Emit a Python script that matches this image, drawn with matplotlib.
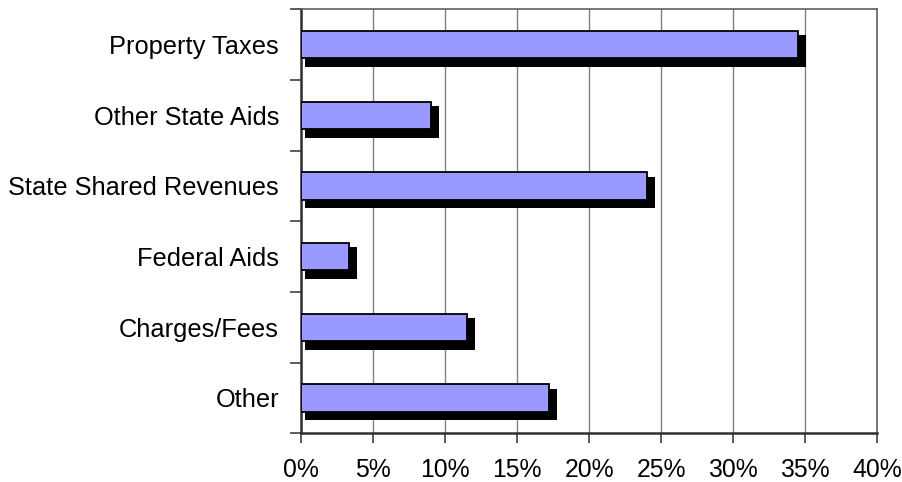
import matplotlib
matplotlib.use("Agg")
import matplotlib.pyplot as plt
import numpy as np
from matplotlib.ticker import FuncFormatter, FixedLocator

categories = ["Property Taxes", "Other State Aids", "State Shared Revenues",
              "Federal Aids", "Charges/Fees", "Other"]
values = [34.5, 9.0, 24.0, 3.3, 11.5, 17.2]
xticks = [0, 5, 10, 15, 20, 25, 30, 35, 40]

plt.rcParams['font.family'] = ['Liberation Sans', 'DejaVu Sans']

W, H = 903, 482
fig = plt.figure(figsize=(W / 100, H / 100), dpi=100)
left, right, top, bottom = 301.3, 877.0, 9.3, 433.3
ax = fig.add_axes([left / W, 1 - bottom / H, (right - left) / W, (bottom - top) / H])

n = len(categories)
ypos = np.arange(n)[::-1].astype(float)
ax.set_xlim(0, 40)
ax.set_ylim(-0.5, n - 0.5)

px_x = 40 / (right - left)
px_y = n / (bottom - top)
bar_h = 27.3 * px_y
vals = np.array(values)

# shadow
sh_top = ypos + bar_h / 2 - 4.3 * px_y
sh_bot = ypos - bar_h / 2 - 8.7 * px_y
sh_left = 3.7 * px_x
sh_right = vals + 8.6 * px_x
ax.barh((sh_top + sh_bot) / 2, sh_right - sh_left, height=sh_top - sh_bot,
        left=sh_left, color='black', zorder=2)
ax.barh(ypos, vals, height=bar_h, color='#9999FF', edgecolor='black',
        linewidth=1.3, zorder=3)

ax.xaxis.set_major_locator(FixedLocator(xticks))
ax.xaxis.set_major_formatter(FuncFormatter(lambda v, p: f"{v:.0f}%"))
ax.grid(axis='x', color='#808080', linewidth=1.0, zorder=0)
ax.set_axisbelow(True)

ax.set_yticks(ypos)
ax.set_yticklabels(categories)
ax.yaxis.set_minor_locator(FixedLocator(np.arange(-0.5, n, 1.0)))
ax.tick_params(axis='y', which='major', length=0, pad=16, labelsize=18.3)
ax.tick_params(axis='y', which='minor', length=8, width=1.2, color='#404040')
ax.tick_params(axis='x', length=7, width=1.2, pad=11, labelsize=17.8, color='#404040')

for s in ['left', 'bottom']:
    ax.spines[s].set_color('#303030')
    ax.spines[s].set_linewidth(1.8)
for s in ['top', 'right']:
    ax.spines[s].set_color('#606060')
    ax.spines[s].set_linewidth(1.2)

fig.savefig("out.png", dpi=100)
